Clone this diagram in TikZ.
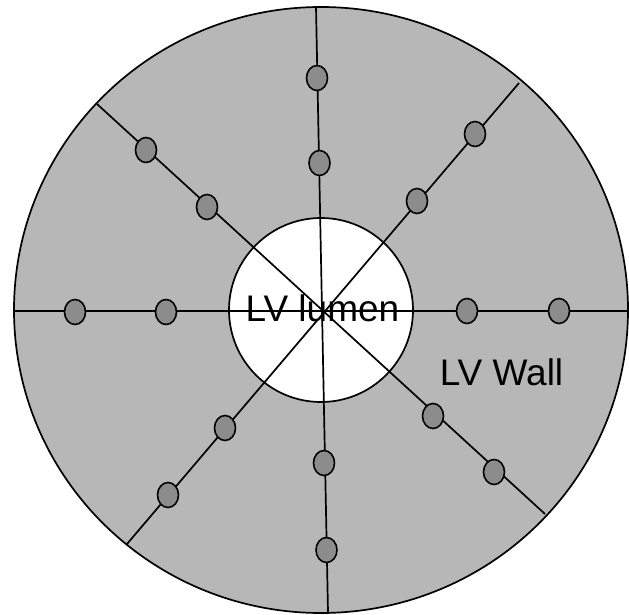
\documentclass[tikz,border=0pt]{standalone}
\usepackage{fontspec}
\setmainfont{Liberation Sans}
\usetikzlibrary{shapes.geometric}
\definecolor{wallgray}{RGB}{183,183,183}
\definecolor{dotgray}{RGB}{140,140,140}
\begin{document}
\begin{tikzpicture}[x=1pt,y=-1pt,line width=1.7pt,
  dot/.style={ellipse,draw=black,fill=dotgray,minimum width=21pt,minimum height=25pt,inner sep=0pt,line width=1.6pt},
  lbl/.style={font=\fontsize{37}{40}\selectfont,inner sep=0pt,anchor=base}]
\useasboundingbox (0,0) rectangle (629,615);
% LV wall
\filldraw[fill=wallgray] (321,310) ellipse [x radius=307,y radius=303];
% LV lumen
\node[circle,draw,fill=white,minimum size=184pt,inner sep=0pt] (lumen) at (321,310) {};
% end points of the radial lines
\coordinate (T) at (316,7);
\coordinate (B) at (328,612);
\coordinate (L) at (14,311);
\coordinate (R) at (628,311);
\coordinate (NW) at (97,104);
\coordinate (SE) at (545,514);
\coordinate (NE) at (519,83);
\coordinate (SW) at (127,544);
\draw (T) -- (B);
\draw (L) -- (R);
\draw (NW) -- (SE);
\draw (NE) -- (SW);
% dots
\node[dot] (t1) at (317,78) {};
\node[dot] (t2) at (319.5,163) {};
\node[dot] (b1) at (324,463) {};
\node[dot] (b2) at (326.5,550) {};
\node[dot] (l1) at (75,312) {};
\node[dot] (l2) at (166,312) {};
\node[dot] (r1) at (467,311) {};
\node[dot] (r2) at (559,311) {};
\node[dot] (nw1) at (146,150) {};
\node[dot] (nw2) at (207,207) {};
\node[dot] (ne1) at (475,134) {};
\node[dot] (ne2) at (417,201) {};
\node[dot] (sw1) at (225,428) {};
\node[dot] (sw2) at (168,495) {};
\node[dot] (se1) at (433,416) {};
\node[dot] (se2) at (494,472) {};
% labels
\node[lbl] (lumenlbl) at (322.5,321) {LV lumen};
\node[lbl] (walllbl) at (501.5,385) {LV Wall};
\end{tikzpicture}
\end{document}
